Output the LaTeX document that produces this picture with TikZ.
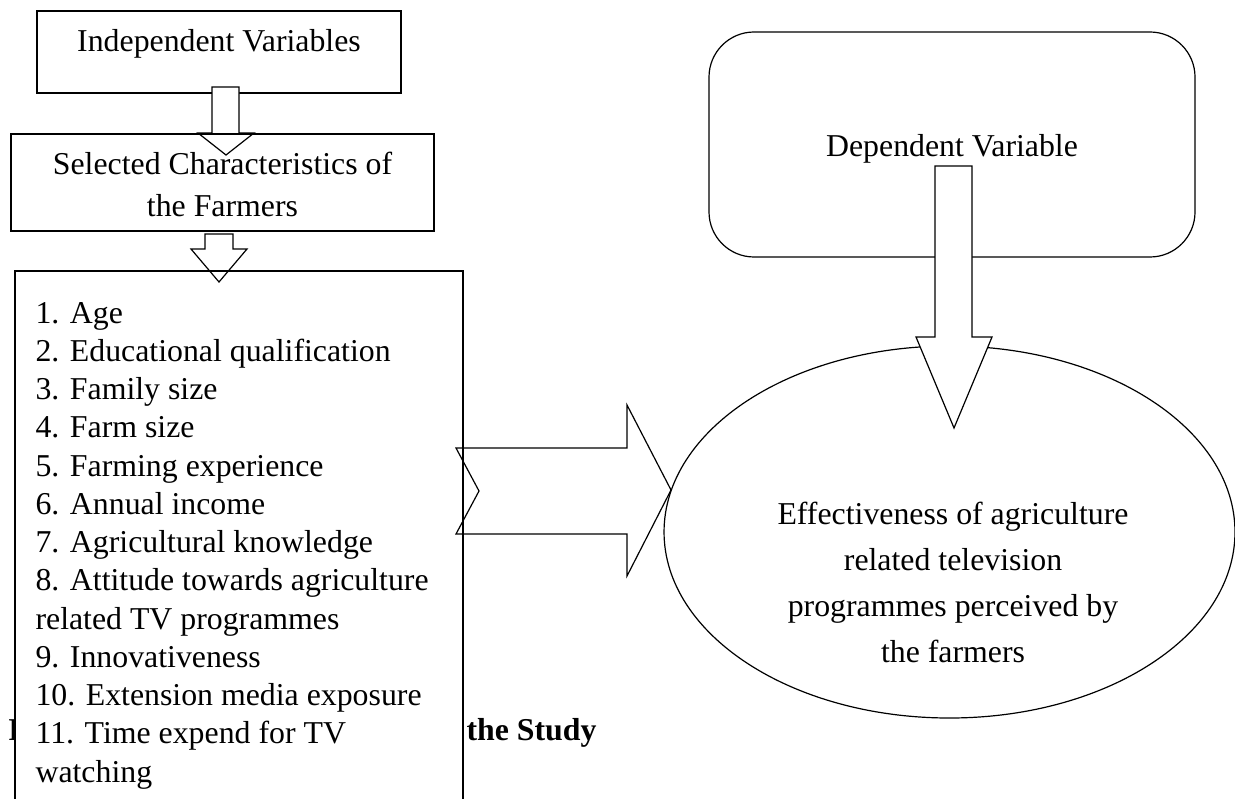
\documentclass[tikz,border=0pt]{standalone}
\usepackage{fontspec}
\setmainfont{Liberation Serif}
\usetikzlibrary{shapes.geometric,fit}

\tikzset{
  frame/.style={draw,line width=0.45pt,inner sep=0pt},
  txt/.style={anchor=base,inner sep=0pt,font=\fontsize{11.93}{14.3}\selectfont},
  listitem/.style={txt,anchor=base west},
  captxt/.style={txt,anchor=base west,font=\fontsize{11.93}{14.3}\selectfont\bfseries},
  blockarrow/.style={draw,line width=0.45pt,line join=miter},
}

\begin{document}
\begin{tikzpicture}[x=0.375pt,y=-0.375pt]
\useasboundingbox (0,0) rectangle (1235,798);

% caption, mostly hidden under the list box
\node[captxt] (capstart) at (8,740) {F};
\node[captxt] (capend) at (466,740) {the Study};

% independent side
\node[frame,fit={(37,11) (401,93)}] (indep) {};
\node[txt] (indeplabel) at (219,52) {Independent Variables};

\draw[blockarrow,fill=white] (212,87) -- (239,87) -- (239,133) -- (254,133) -- (226,155) -- (198,133) -- (212,133) -- cycle;

\node[frame,fit={(11,134) (434,231)}] (charac) {};
\node[txt] (charac1) at (222.5,175) {Selected Characteristics of};
\node[txt] (charac2) at (222.5,217) {the Farmers};

\node[frame,fill=white,fit={(15,271) (463,830)}] (list) {};

\draw[blockarrow] (205,234) -- (233,234) -- (233,249) -- (247,249) -- (219,282) -- (191,249) -- (205,249) -- cycle;

\foreach \t [count=\i from 0] in {1. Age,2. Educational qualification,3. Family size,4. Farm size,5. Farming experience,6. Annual income,7. Agricultural knowledge,8. Attitude towards agriculture,related TV programmes,9. Innovativeness,10. Extension media exposure,11. Time expend for TV,watching}
  \node[listitem] (item\i) at (35,323+38.25*\i) {\t};

% dependent side
\node[frame,rounded corners=16.9pt,fit={(709,32) (1195,257)}] (dep) {};
\node[txt] (deplabel) at (952,157) {Dependent Variable};

\node[frame,ellipse,minimum width=214.1pt,minimum height=139.5pt] (effect) at (949.5,532) {};
\foreach \t [count=\i from 0] in {Effectiveness of agriculture,related television,programmes perceived by,the farmers}
  \node[txt] (effect\i) at (953,524+46.3*\i) {\t};

\draw[blockarrow,fill=white] (935,166) -- (972,166) -- (972,337) -- (992,337) -- (954,428) -- (916,337) -- (935,337) -- cycle;

% list to effectiveness
\draw[blockarrow] (456,448) -- (627,448) -- (627,405) -- (671,490) -- (627,576) -- (627,534) -- (456,534) -- (479,491) -- cycle;
\end{tikzpicture}
\end{document}
